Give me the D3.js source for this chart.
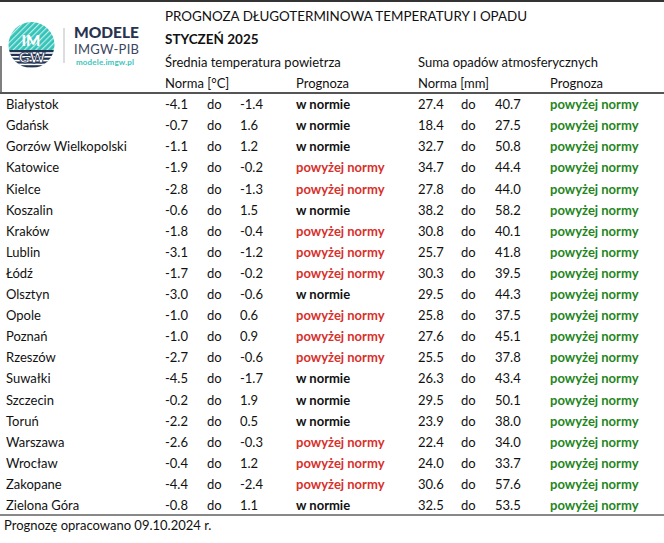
<!DOCTYPE html>
<html>
<head>
<meta charset="utf-8">
<script src="https://cdn.jsdelivr.net/npm/d3@7"></script>
<style>
  body { margin: 0; background: #fff; }
  svg text { font-family: Lato, "Open Sans", sans-serif; }
</style>
</head>
<body>
<svg id="table"></svg>
<script>
// data
const cities = ["Białystok", "Gdańsk", "Gorzów Wielkopolski", "Katowice", "Kielce", "Koszalin",
    "Kraków", "Lublin", "Łódź", "Olsztyn", "Opole", "Poznań", "Rzeszów", "Suwałki", "Szczecin",
    "Toruń", "Warszawa", "Wrocław", "Zakopane", "Zielona Góra"];
const tempLow = ["-4.1", "-0.7", "-1.1", "-1.9", "-2.8", "-0.6", "-1.8", "-3.1", "-1.7", "-3.0",
    "-1.0", "-1.0", "-2.7", "-4.5", "-0.2", "-2.2", "-2.6", "-0.4", "-4.4", "-0.8"];
const tempHigh = ["-1.4", "1.6", "1.2", "-0.2", "-1.3", "1.5", "-0.4", "-1.2", "-0.2", "-0.6",
    "0.6", "0.9", "-0.6", "-1.7", "1.9", "0.5", "-0.3", "1.2", "-2.4", "1.1"];
const tempForecast = ["w normie", "w normie", "w normie", "powyżej normy", "powyżej normy", "w normie",
    "powyżej normy", "powyżej normy", "powyżej normy", "w normie", "powyżej normy", "powyżej normy",
    "powyżej normy", "w normie", "w normie", "w normie", "powyżej normy", "powyżej normy",
    "powyżej normy", "w normie"];
const precLow = ["27.4", "18.4", "32.7", "34.7", "27.8", "38.2", "30.8", "25.7", "30.3", "29.5",
    "25.8", "27.6", "25.5", "26.3", "29.5", "23.9", "22.4", "24.0", "30.6", "32.5"];
const precHigh = ["40.7", "27.5", "50.8", "44.4", "44.0", "58.2", "40.1", "41.8", "39.5", "44.3",
    "37.5", "45.1", "37.8", "43.4", "50.1", "38.0", "34.0", "33.7", "57.6", "53.5"];
const precForecast = cities.map(() => "powyżej normy");

const columns = ["city", "tLow", "tDo", "tHigh", "tFc", "pLow", "pDo", "pHigh", "pFc"];
const colX = [6, 165, 207, 240, 296, 418, 461, 495, 550];

const width = 664, height = 543;
const svg = d3.select("#table").attr("width", width).attr("height", height);

const x = d3.scaleOrdinal().domain(columns).range(colX);
const y = d3.scaleBand().domain(d3.range(cities.length)).range([94, 516]);

const tempColor = {"w normie": "#111", "powyżej normy": "#d8302b"};
const precColor = {"powyżej normy": "#1f861c"};
const fs = 13;

// frame lines
svg.append("line").attr("x1", 0).attr("x2", width).attr("y1", 1).attr("y2", 1)
    .attr("stroke", "#333").attr("stroke-width", 2);
svg.append("line").attr("x1", 1).attr("x2", 1).attr("y1", 46).attr("y2", 93)
    .attr("stroke", "#555").attr("stroke-width", 1.5);
svg.append("line").attr("x1", 0).attr("x2", width).attr("y1", 93).attr("y2", 93)
    .attr("stroke", "#555").attr("stroke-width", 2);
svg.append("line").attr("x1", 0).attr("x2", width).attr("y1", 515).attr("y2", 515)
    .attr("stroke", "#888").attr("stroke-width", 2);

// logo
const logo = svg.append("g");
const defs = svg.append("defs");
defs.append("clipPath").attr("id", "circ")
    .append("circle").attr("cx", 31.5).attr("cy", 45).attr("r", 23);
const pat = defs.append("pattern").attr("id", "stripes").attr("width", 4).attr("height", 4)
    .attr("patternUnits", "userSpaceOnUse").attr("patternTransform", "rotate(45)");
pat.append("rect").attr("width", 4).attr("height", 4).attr("fill", "#34c3b9");
pat.append("rect").attr("width", 1.2).attr("height", 4).attr("fill", "#bfeee9");
const lg = logo.append("g").attr("clip-path", "url(#circ)");
lg.append("rect").attr("x", 8).attr("y", 22).attr("width", 47).attr("height", 47).attr("fill", "url(#stripes)");
lg.append("rect").attr("x", 8).attr("y", 50).attr("width", 47).attr("height", 20).attr("fill", "#fff");
d3.range(5).forEach(i => {
    lg.append("rect").attr("x", 8).attr("y", 50 + i * 3.8).attr("width", 47).attr("height", 2.2)
        .attr("fill", "#223150");
});
logo.append("text").attr("x", 31).attr("y", 46).attr("text-anchor", "middle")
    .attr("font-size", 15).attr("font-weight", 900).attr("fill", "#fff").text("IM");
logo.append("text").attr("x", 32).attr("y", 63).attr("text-anchor", "middle")
    .attr("font-size", 15).attr("font-weight", 900).attr("fill", "#fff")
    .attr("stroke", "#223150").attr("stroke-width", 0.8).text("GW");
logo.append("line").attr("x1", 64).attr("x2", 64).attr("y1", 28).attr("y2", 63)
    .attr("stroke", "#bbb");
logo.append("text").attr("x", 74).attr("y", 37.5).attr("font-size", 15.5).attr("font-weight", 900)
    .attr("fill", "#27334f").attr("textLength", 65).text("MODELE");
logo.append("text").attr("x", 74).attr("y", 54).attr("font-size", 13)
    .attr("fill", "#3b4560").attr("textLength", 65).text("IMGW-PIB");
logo.append("text").attr("x", 76).attr("y", 65).attr("font-size", 8).attr("font-weight", 700)
    .attr("fill", "#3cc4bb").attr("textLength", 58).text("modele.imgw.pl");

// headers
const head = svg.append("g").attr("font-size", fs).attr("fill", "#111");
head.append("text").attr("x", 165).attr("y", 21).attr("font-size", 13.4)
    .text("PROGNOZA DŁUGOTERMINOWA TEMPERATURY I OPADU");
head.append("text").attr("x", 165).attr("y", 44).attr("font-size", 13.5).attr("font-weight", 700)
    .text("STYCZEŃ 2025");
head.append("text").attr("x", x("tLow")).attr("y", 67).text("Średnia temperatura powietrza");
head.append("text").attr("x", x("pLow")).attr("y", 67).text("Suma opadów atmosferycznych");
head.append("text").attr("x", x("tLow")).attr("y", 88).text("Norma [°C]");
head.append("text").attr("x", x("tFc")).attr("y", 88).text("Prognoza");
head.append("text").attr("x", x("pLow")).attr("y", 88).text("Norma [mm]");
head.append("text").attr("x", x("pFc")).attr("y", 88).text("Prognoza");

// rows
const rows = svg.append("g").attr("font-size", fs).selectAll("g.row")
    .data(cities.map((c, i) => i))
    .join("g").attr("class", "row")
    .attr("transform", i => "translate(0," + (y(i) + y.bandwidth() / 2) + ")");

function cell(key, fn, color, bold) {
    rows.append("text")
        .attr("x", x(key))
        .attr("dy", "0.35em")
        .attr("fill", color || "#111")
        .attr("font-weight", bold ? 700 : 400)
        .text(fn);
}
cell("city", i => cities[i]);
cell("tLow", i => tempLow[i]);
cell("tDo", () => "do");
cell("tHigh", i => tempHigh[i]);
cell("tFc", i => tempForecast[i], i => tempColor[tempForecast[i]], true);
cell("pLow", i => precLow[i]);
cell("pDo", () => "do");
cell("pHigh", i => precHigh[i]);
cell("pFc", i => precForecast[i], i => precColor[precForecast[i]], true);

// footer
svg.append("text").attr("x", 4).attr("y", 530).attr("font-size", fs).attr("fill", "#111")
    .text("Prognozę opracowano 09.10.2024 r.");
</script>
</body>
</html>
